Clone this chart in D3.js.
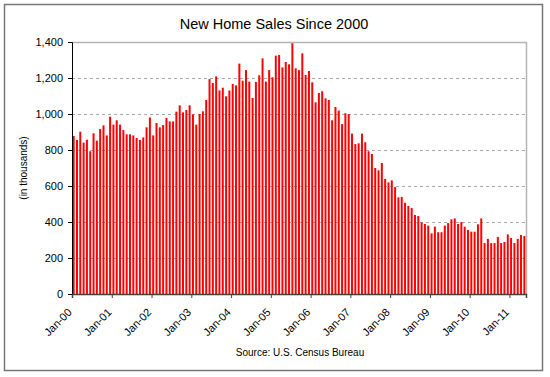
<!DOCTYPE html>
<html>
<head>
<meta charset="utf-8">
<script src="https://cdn.jsdelivr.net/npm/d3@7"></script>
<style>
  body { margin: 0; background: #fff; }
  svg { font-family: Arial, "Liberation Sans", sans-serif; }
</style>
</head>
<body>
<svg class="chart" width="550" height="377"></svg>
<script>
// monthly new home sales, Jan 2000 - May 2011 (thousands)
var sales = [
    878, 856, 902, 841, 857, 793, 893, 852, 917, 937, 881, 985,          // 2000
    941, 965, 941, 911, 887, 887, 881, 867, 856, 870, 926, 981,          // 2001
    881, 950, 926, 939, 978, 959, 959, 1013, 1048, 1009, 1022, 1048,     // 2002
    998, 941, 1000, 1015, 1078, 1194, 1172, 1209, 1131, 1146, 1098, 1131, // 2003
    1167, 1159, 1280, 1185, 1244, 1180, 1089, 1178, 1215, 1309, 1180, 1244, // 2004
    1204, 1324, 1328, 1259, 1289, 1276, 1393, 1254, 1244, 1337, 1217, 1239, // 2005
    1176, 1065, 1117, 1126, 1087, 1078, 965, 1039, 1019, 944, 1004, 1000, // 2006
    891, 833, 837, 891, 843, 793, 778, 700, 687, 728, 639, 620,          // 2007
    631, 594, 537, 539, 507, 489, 478, 439, 433, 398, 389, 380,          // 2008
    337, 374, 343, 343, 380, 394, 415, 420, 389, 400, 374, 356,          // 2009
    346, 346, 387, 420, 283, 306, 283, 283, 317, 283, 289, 331,          // 2010
    311, 283, 306, 328, 322                                              // 2011
];

var tickLabels = ["Jan-00", "Jan-01", "Jan-02", "Jan-03", "Jan-04", "Jan-05",
                  "Jan-06", "Jan-07", "Jan-08", "Jan-09", "Jan-10", "Jan-11"];

var yTicks = [0, 200, 400, 600, 800, 1000, 1200, 1400];

var plot = { left: 72, right: 526, top: 42, bottom: 294 };

var svg = d3.select("svg.chart");

// outer frame
svg.append("rect")
   .attr("x", 4.5).attr("y", 4.5)
   .attr("width", 538).attr("height", 366)
   .attr("fill", "#fff")
   .attr("stroke", "#767676")
   .attr("stroke-width", 1.5);

var months = d3.range(sales.length);

var x = d3.scaleBand()
          .domain(months)
          .range([plot.left, plot.right])
          .paddingInner(0.4)
          .paddingOuter(0.2);

var xIdx = d3.scaleLinear()
             .domain([0, sales.length])
             .range([plot.left, plot.right]);

var y = d3.scaleLinear()
          .domain([0, 1400])
          .range([plot.bottom, plot.top]);

// gridlines
svg.append("g")
   .selectAll("line.grid")
   .data(yTicks.filter(function (d) { return d > 0 && d < 1400; }))
   .enter()
   .append("line")
   .attr("class", "grid")
   .attr("x1", plot.left).attr("x2", plot.right)
   .attr("y1", function (d) { return Math.round(y(d)) + 0.5; })
   .attr("y2", function (d) { return Math.round(y(d)) + 0.5; })
   .attr("stroke", "#a8a8a8")
   .attr("stroke-dasharray", "3,3");

// plot border top / right
svg.append("path")
   .attr("d", "M" + plot.left + "," + (plot.top + 0.5) + "H" + (plot.right + 0.5) + "V" + plot.bottom)
   .attr("fill", "none")
   .attr("stroke", "#b4b4b4")
   .attr("stroke-width", 1.5);

// bars
svg.append("g")
   .selectAll("rect.bar")
   .data(sales)
   .enter()
   .append("rect")
   .attr("class", "bar")
   .attr("x", function (d, i) { return x(i); })
   .attr("width", x.bandwidth())
   .attr("y", function (d) { return y(d); })
   .attr("height", function (d) { return y(0) - y(d); })
   .attr("fill", "#ff0000");

// y axis
var yAxis = svg.append("g")
   .attr("transform", "translate(" + plot.left + ",0)")
   .call(d3.axisLeft(y)
           .tickValues(yTicks)
           .tickFormat(d3.format(","))
           .tickSize(4)
           .tickPadding(5));
yAxis.select(".domain").attr("stroke", "#000");
yAxis.selectAll("text").attr("font-size", 11).attr("fill", "#000").attr("font-family", null);

// x axis
var xAxis = svg.append("g")
   .attr("transform", "translate(0," + plot.bottom + ")")
   .call(d3.axisBottom(xIdx)
           .tickValues(d3.range(0, sales.length, 12))
           .tickFormat(function (d, i) { return tickLabels[i]; })
           .tickSizeOuter(0)
           .tickSize(4));
xAxis.select(".domain").attr("stroke", "#404040").attr("stroke-width", 1.5);
xAxis.selectAll(".tick line").attr("stroke", "#404040");
xAxis.selectAll("text")
     .attr("font-size", 11)
     .attr("font-family", null)
     .attr("fill", "#000")
     .attr("text-anchor", "end")
     .attr("dy", null)
     .attr("y", 0)
     .attr("transform", "translate(0,19) rotate(-45)");

// title
svg.append("text")
   .attr("x", 274).attr("y", 29)
   .attr("text-anchor", "middle")
   .attr("font-size", 14.5)
   .text("New Home Sales Since 2000");

// y label
svg.append("text")
   .attr("transform", "translate(27,168) rotate(-90)")
   .attr("text-anchor", "middle")
   .attr("font-size", 10)
   .text("(in thousands)");

// source
svg.append("text")
   .attr("x", 300).attr("y", 356)
   .attr("text-anchor", "middle")
   .attr("font-size", 10)
   .text("Source: U.S. Census Bureau");
</script>
</body>
</html>
